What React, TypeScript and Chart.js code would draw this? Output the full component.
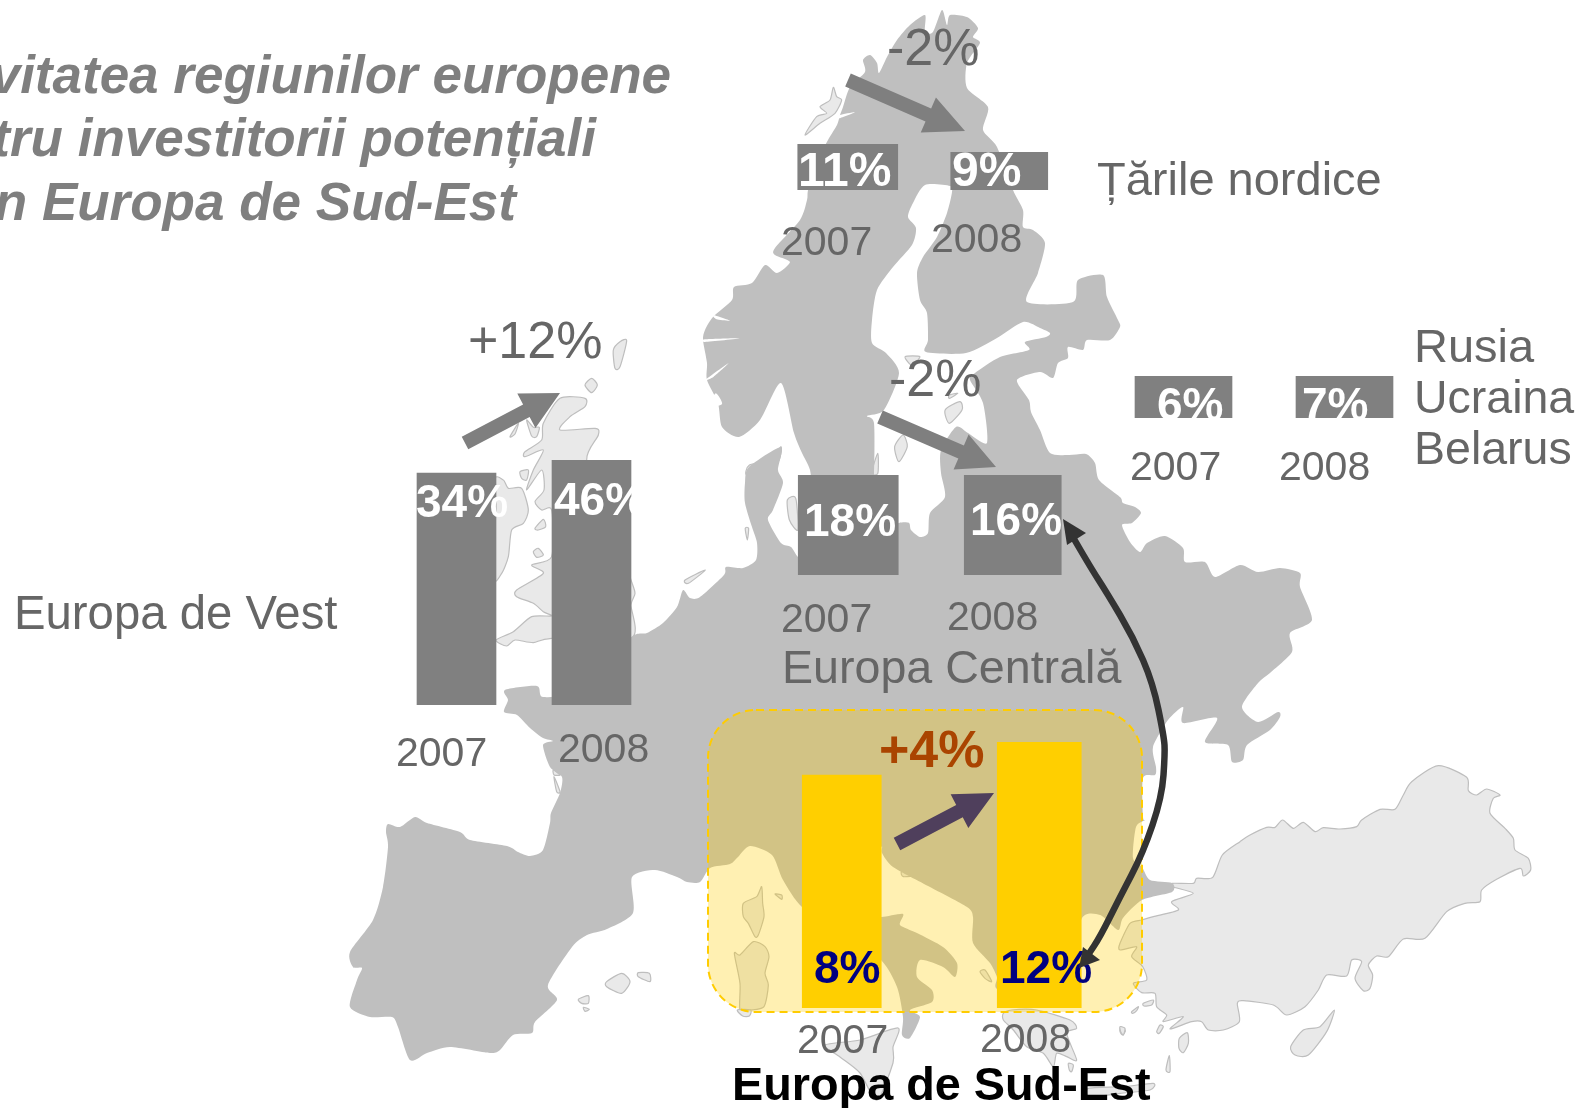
import React, { useEffect, useRef } from "react";
import { Chart, registerables } from "chart.js";

Chart.register(...registerables);

// ---------- data ----------
const years = ["2007", "2008"];
const westValues = [34, 46];
const centralValues = [18, 16];
const nordicValues = [11, 9];
const eastValues = [6, 7];
const southEastValues = [8, 12];

const titleLines = ["vitatea regiunilor europene", "tru investitorii potențiali", "n Europa de Sud-Est"];

// ---------- regions (one small chart each) ----------
type Region = {
  values: number[]; yMin: number; yMax: number; left: number; top: number; width: number; bottom: number; pad: number;
  widths: number[]; color: string; labelColor: string; valuePos: number[][]; yearPos: number[][]; valueFont?: string;
};
const regions: Region[] = [
  { values: westValues, yMin: -180, yMax: 46, left: 389, top: 460, width: 270, bottom: 705, pad: 80, widths: [79, 79], color: "#808080", labelColor: "#ffffff",
    valuePos: [[416, 517], [554, 515]], yearPos: [[396, 766], [558, 762]] },
  { values: centralValues, yMin: 0, yMax: 16, left: 766, top: 475, width: 329, bottom: 575, pad: 75, widths: [100, 97], color: "#808080", labelColor: "#ffffff",
    valuePos: [[804, 536], [970, 535]], yearPos: [[781, 632], [947, 630]] },
  { values: nordicValues, yMin: 0, yMax: 11, left: 772, top: 144, width: 303, bottom: 190, pad: 80, widths: [100, 97], color: "#808080", labelColor: "#ffffff",
    valuePos: [[798, 186], [952, 186]], yearPos: [[781, 255], [931, 252]], valueFont: "bold 48px" },
  { values: eastValues, yMin: 0, yMax: 6, left: 1103, top: 376, width: 322, bottom: 418, pad: 77, widths: [97, 97], color: "#808080", labelColor: "#ffffff",
    valuePos: [[1157, 420], [1302, 420]], yearPos: [[1130, 480], [1279, 480]] },
  { values: southEastValues, yMin: -20.2, yMax: 12, left: 743, top: 742, width: 395, bottom: 1008, pad: 57, widths: [79, 84], color: "#FFCF00", labelColor: "#000080",
    valuePos: [[814, 983], [1000, 983]], yearPos: [[797, 1053], [980, 1052]] },
];

// ---------- background map outlines ----------
type P = number[][];
const mainland: P = [
  [703,340],[705,330],[713,317],[732,300],[734,287],[752,283],[765,265],[777,273],[790,262],[775,255],[775,248],[800,220],[807,200],[808,190],[815,165],[828,140],[837,125],[840,115],[843,107],[850,87],[865,72],[863,60],[870,55],[877,63],[879,73],[887,57],[897,40],[910,25],[925,15],[925,32],[933,32],[942,10],[947,25],[950,15],[967,17],[978,28],[973,37],[980,43],[967,63],[967,88],[988,107],[983,130],[997,147],[1013,190],[1023,210],[1023,227],[1033,230],[1045,243],[1038,273],[1027,302],[1073,302],[1078,280],[1103,275],[1107,297],[1118,320],[1120,327],[1110,340],[1087,340],[1083,350],[1068,347],[1068,358],[1058,363],[1053,378],[1040,372],[1017,380],[1029,400],[1031,412],[1040,430],[1050,453],[1069,455],[1086,454],[1095,463],[1099,480],[1120,497],[1123,503],[1135,507],[1141,513],[1132,523],[1122,525],[1130,542],[1140,552],[1147,543],[1165,536],[1183,548],[1185,562],[1205,562],[1215,577],[1240,565],[1258,572],[1280,568],[1300,573],[1300,587],[1312,620],[1290,633],[1292,652],[1270,673],[1258,683],[1242,707],[1258,722],[1278,712],[1280,717],[1270,730],[1247,745],[1243,760],[1232,762],[1228,745],[1205,742],[1217,718],[1183,723],[1183,707],[1168,720],[1153,747],[1156,767],[1155,775],[1143,778],[1143,817],[1145,820],[1136,827],[1133,858],[1142,867],[1150,880],[1172,883],[1172,892],[1142,900],[1123,918],[1118,930],[1100,915],[1081,920],[1070,990],[1000,990],[997,977],[990,963],[973,943],[973,917],[967,907],[930,887],[893,867],[882,853],[881,847],[860,870],[875,910],[881,917],[903,914],[900,925],[917,933],[943,947],[957,963],[955,977],[943,967],[920,960],[917,977],[932,990],[932,1002],[910,1010],[920,1017],[910,1038],[902,1035],[903,1017],[897,987],[881,960],[840,930],[802,907],[783,880],[772,855],[750,846],[738,857],[730,864],[710,868],[700,882],[687,882],[677,877],[655,870],[632,877],[633,913],[607,929],[587,935],[572,947],[548,985],[557,1000],[535,1022],[532,1033],[513,1035],[500,1050],[490,1053],[450,1047],[427,1053],[410,1060],[398,1027],[392,1017],[370,1017],[350,1007],[357,980],[362,968],[353,967],[350,952],[373,920],[383,887],[388,847],[386,832],[388,824],[400,827],[415,817],[427,823],[460,832],[470,840],[507,846],[518,852],[530,856],[543,850],[550,823],[551,813],[560,793],[562,777],[550,767],[543,745],[553,741],[543,738],[530,728],[517,715],[504,712],[508,700],[505,690],[537,686],[543,697],[580,690],[630,638],[647,633],[663,623],[677,607],[683,590],[690,598],[700,597],[724,575],[726,567],[743,568],[756,560],[757,543],[752,527],[745,503],[745,483],[749,467],[781,447],[778,470],[783,483],[773,510],[768,520],[781,543],[791,547],[798,557],[810,565],[880,560],[885,530],[899,523],[909,523],[911,530],[920,537],[928,533],[930,513],[945,497],[941,473],[941,450],[956,427],[968,433],[987,443],[983,403],[970,380],[975,373],[1000,357],[1029,350],[1025,342],[1046,337],[1050,333],[1040,328],[1023,322],[997,338],[966,353],[926,352],[928,340],[927,313],[920,300],[917,273],[923,257],[937,237],[947,213],[952,192],[950,186],[925,185],[913,203],[908,217],[916,228],[912,245],[893,267],[877,290],[872,320],[872,343],[886,353],[899,373],[884,410],[867,416],[874,423],[874,475],[870,520],[840,530],[815,500],[810,470],[802,453],[794,433],[781,383],[760,420],[739,437],[722,427],[718,403],[707,380],[707,363],
];
const z6 = (a: P): P => a.map(([x, y]) => [400 + x / 3, 310 + y / 3]);
const z3 = (a: P): P => a.map(([x, y]) => [330 + x / 3, 660 + y / 3]);
const z4 = (a: P): P => a.map(([x, y]) => [690 + x / 3, 690 + y / 3]);
const z5 = (a: P): P => a.map(([x, y]) => [1100 + x / 3, 720 + y / 3]);
const z8 = (a: P): P => a.map(([x, y]) => [840 + x / 3, 990 + y / 3]);
const z1 = (a: P): P => a.map(([x, y]) => [680 + x / 3, y / 3]);
const z2 = (a: P): P => a.map(([x, y]) => [680 + x / 2.376, 330 + y / 3]);
const fjords: P[] = [
  z1([[100,945],[150,962],[110,958]]),
  z1([[75,1018],[180,1015],[75,1026]]),
  z1([[480,345],[525,337],[478,355]]),
  z2([[60,150],[115,100],[80,140]]),
  z2([[70,230],[100,222],[85,190]]),
];
const lightShapes: P[] = [
  z5([[217,490],[280,490],[290,475],[338,472],[367,405],[420,365],[450,345],[500,322],[525,322],[548,300],[580,325],[610,307],[645,335],[670,323],[720,327],[770,320],[785,300],[840,268],[885,268],[910,225],[935,185],[1015,137],[1100,172],[1105,212],[1130,225],[1160,207],[1200,225],[1180,235],[1170,280],[1215,325],[1240,355],[1245,390],[1285,415],[1292,450],[1270,468],[1260,445],[1190,478],[1145,510],[1140,545],[1095,550],[1040,575],[975,655],[910,657],[865,710],[830,708],[805,735],[818,765],[810,805],[790,812],[765,775],[785,725],[755,720],[740,768],[680,765],[655,810],[615,860],[560,885],[520,855],[430,842],[412,850],[418,905],[370,930],[325,930],[305,905],[275,905],[210,927],[250,890],[190,905],[200,885],[170,860],[165,820],[125,818],[100,790],[140,780],[128,740],[95,710],[110,680],[60,690],[60,670],[90,610],[125,600],[160,590],[235,570],[215,545],[280,520],[217,500]]),
  z5([[703,870],[680,935],[625,1005],[585,1005],[572,980],[610,930],[660,920]]),
  z5([[262,938],[265,970],[250,998],[237,985],[238,955]]),
  z5([[208,1007],[210,1055],[198,1050]]),
  z5([[62,920],[76,932],[68,945],[60,935]]),
  z5([[180,915],[190,920],[178,940],[170,935]]),
  z5([[95,875],[115,860],[110,872],[98,880]]),
  z5([[130,850],[160,840],[155,855],[132,858]]),
  z8([[490,70],[515,60],[590,60],[690,90],[710,115],[680,130],[710,210],[680,200],[650,190],[640,230],[610,190],[560,170],[520,120],[490,90]]),
  z8([[745,295],[850,290],[940,280],[930,300],[840,310],[750,320]]),
  z8([[685,220],[700,225],[695,245],[688,240]]),
  z8([[840,110],[855,115],[850,135],[842,125]]),
  [[825,1045],[860,1040],[898,1028],[893,1047],[893,1063],[877,1100],[860,1073],[840,1057]],
  z4([[215,590],[218,640],[222,680],[205,735],[195,740],[175,700],[160,680],[160,640],[200,620]]),
  z4([[133,790],[150,795],[190,755],[225,770],[237,800],[225,850],[235,885],[222,950],[180,960],[150,960],[150,880]]),
  z4([[255,612],[275,615],[275,628]]),
  z4([[635,545],[670,540],[680,555],[640,560]]),
  z4([[870,845],[885,840],[905,875],[885,865]]),
  z3([[830,965],[875,940],[900,965],[875,1000],[830,980]]),
  z3([[925,938],[958,940],[960,965],[925,950]]),
  z3([[745,1018],[775,1007],[775,1030],[755,1030]]),
  z3([[760,1042],[778,1048],[765,1054]]),
  z3([[1222,1050],[1262,1050],[1258,1068],[1238,1068]]),
  z3([[670,330],[690,345],[672,345]]),
  z3([[672,350],[690,395],[680,395]]),
  // Great Britain and Ireland
  z6([[480,265],[555,265],[555,290],[510,320],[480,360],[585,355],[595,375],[560,450],[620,600],[693,810],[705,850],[693,885],[693,985],[455,985],[400,998],[345,990],[320,1008],[288,990],[340,965],[395,920],[455,918],[430,905],[400,880],[350,860],[350,840],[430,790],[395,765],[455,740],[455,600],[425,600],[405,575],[432,540],[425,480],[380,540],[400,480],[430,420],[375,440],[375,425],[425,390],[430,340]]),
  z6([[310,510],[325,535],[365,535],[385,600],[370,640],[335,660],[325,740],[305,790],[280,800],[280,520]]),
  z6([[640,120],[660,95],[680,92],[660,170],[645,175]]),
  z6([[555,225],[575,205],[592,225],[575,248]]),
  z6([[330,380],[355,340],[345,372]]),
  z6([[380,330],[400,352],[418,352],[410,380],[395,378]]),
  z6([[360,485],[385,480],[380,510],[365,505]]),
  z6([[405,655],[430,628],[437,650],[415,660]]),
  z6([[400,725],[415,715],[430,735],[410,742]]),
  // Baltic and Norwegian islands
  z1([[460,262],[470,290],[485,300],[465,340],[420,370],[375,405],[410,350],[440,340],[420,320],[450,300]]),
  z2([[530,315],[510,350],[520,395],[540,350]]),
  z2([[470,370],[455,430],[470,430]]),
  z2([[255,510],[275,505],[280,600],[260,570]]),
  z2([[240,350],[215,390],[165,405],[160,435],[230,400]]),
  z2([[535,80],[570,80],[550,105]]),
  z2([[630,240],[665,215],[670,240],[640,280]]),
  z2([[640,195],[660,190],[640,205]]),
  z2([[155,595],[163,595],[160,630]]),
  z2([[12,750],[60,720],[20,760]]),
];
const curvePoints: P = [[1070,532],[1089,565],[1107,593],[1133,637],[1153,683],[1164,737],[1165,753],[1162,797],[1143,853],[1120,897],[1100,937],[1088,955]];
const blockArrows = [
  { tail: [465,443], tip: [560,393], sw: 14, hw: 39, hl: 38, color: "#7F7F7F" },
  { tail: [848,80], tip: [965,131], sw: 14, hw: 38, hl: 40, color: "#7F7F7F" },
  { tail: [880,417], tip: [996,467], sw: 14, hw: 38, hl: 38, color: "#7F7F7F" },
  { tail: [897,844], tip: [994,793], sw: 14, hw: 38, hl: 39, color: "#4F3F5C" },
];

// closed Catmull-Rom curve that passes through every outline point
function smooth(ctx: CanvasRenderingContext2D, pts: P) {
  const n = pts.length;
  ctx.beginPath();
  ctx.moveTo(pts[0][0], pts[0][1]);
  for (let i = 0; i < n; i++) {
    const p0 = pts[(i - 1 + n) % n], p1 = pts[i], p2 = pts[(i + 1) % n], p3 = pts[(i + 2) % n];
    ctx.bezierCurveTo(
      p1[0] + (p2[0] - p0[0]) / 8, p1[1] + (p2[1] - p0[1]) / 8,
      p2[0] - (p3[0] - p1[0]) / 8, p2[1] - (p3[1] - p1[1]) / 8,
      p2[0], p2[1],
    );
  }
  ctx.closePath();
}

const FONT = '"Liberation Sans", Arial, sans-serif';
function text(ctx: CanvasRenderingContext2D, s: string, x: number, y: number, font: string, color: string, align: CanvasTextAlign = "left") {
  ctx.font = `${font} ${FONT}`;
  ctx.fillStyle = color;
  ctx.textAlign = align;
  ctx.textBaseline = "alphabetic";
  ctx.fillText(s, x, y);
}

const mapPlugin = {
  id: "mapLayer",
  beforeDraw(chart: any) {
    const ctx: CanvasRenderingContext2D = chart.ctx;
    ctx.save();
    ctx.lineJoin = "round";
    lightShapes.forEach((s) => {
      smooth(ctx, s);
      ctx.fillStyle = "#E9E9E9";
      ctx.fill();
      ctx.strokeStyle = "#BEBEBE";
      ctx.lineWidth = 1.2;
      ctx.stroke();
    });
    smooth(ctx, mainland);
    ctx.fillStyle = "#BFBFBF";
    ctx.fill();
    fjords.forEach((s) => {
      smooth(ctx, s);
      ctx.fillStyle = "#FFFFFF";
      ctx.fill();
    });
    // highlighted South-East region
    ctx.beginPath();
    ctx.roundRect(708, 710, 434, 302, 48);
    ctx.fillStyle = "rgba(255,204,0,0.3)";
    ctx.fill();
    ctx.setLineDash([8, 5]);
    ctx.lineWidth = 2;
    ctx.strokeStyle = "#FFCC00";
    ctx.stroke();
    ctx.restore();
  },
};

const overlayPlugin = {
  id: "overlayLayer",
  afterDraw(chart: any) {
    const ctx: CanvasRenderingContext2D = chart.ctx;
    ctx.save();
    blockArrows.forEach(({ tail, tip, sw, hw, hl, color }) => {
      const dx = tip[0] - tail[0], dy = tip[1] - tail[1];
      const len = Math.hypot(dx, dy);
      const ux = dx / len, uy = dy / len, nx = -uy, ny = ux;
      const bx = tip[0] - ux * hl, by = tip[1] - uy * hl;
      ctx.beginPath();
      ctx.moveTo(tail[0] + nx * sw / 2, tail[1] + ny * sw / 2);
      ctx.lineTo(bx + nx * sw / 2, by + ny * sw / 2);
      ctx.lineTo(bx + nx * hw / 2, by + ny * hw / 2);
      ctx.lineTo(tip[0], tip[1]);
      ctx.lineTo(bx - nx * hw / 2, by - ny * hw / 2);
      ctx.lineTo(bx - nx * sw / 2, by - ny * sw / 2);
      ctx.lineTo(tail[0] - nx * sw / 2, tail[1] - ny * sw / 2);
      ctx.closePath();
      ctx.fillStyle = color;
      ctx.fill();
    });
    // curved double-headed arrow
    ctx.beginPath();
    ctx.moveTo(curvePoints[0][0], curvePoints[0][1]);
    for (let i = 1; i < curvePoints.length - 1; i++) {
      const a = curvePoints[i], b = curvePoints[i + 1];
      ctx.quadraticCurveTo(a[0], a[1], (a[0] + b[0]) / 2, (a[1] + b[1]) / 2);
    }
    const last = curvePoints[curvePoints.length - 1];
    ctx.lineTo(last[0], last[1]);
    ctx.strokeStyle = "#333333";
    ctx.lineWidth = 6.5;
    ctx.stroke();
    ctx.fillStyle = "#333333";
    [[[1063,519],[1086,533],[1067,545]], [[1079,968],[1100,960],[1083,947]]].forEach((t) => {
      ctx.beginPath();
      ctx.moveTo(t[0][0], t[0][1]);
      ctx.lineTo(t[1][0], t[1][1]);
      ctx.lineTo(t[2][0], t[2][1]);
      ctx.closePath();
      ctx.fill();
    });
    // texts
    const title = "italic bold 53px";
    text(ctx, titleLines[0], 671, 93, title, "#7F7F7F", "right");
    text(ctx, titleLines[1], 596, 156, title, "#7F7F7F", "right");
    text(ctx, titleLines[2], 516, 220, title, "#7F7F7F", "right");
    const grey = "#666666";
    text(ctx, "-2%", 887, 65, "52px", grey);
    text(ctx, "+12%", 468, 358, "52px", grey);
    text(ctx, "-2%", 889, 396, "52px", grey);
    text(ctx, "+4%", 879, 767, "bold 52px", "#AA4400");
    text(ctx, "Țările nordice", 1097, 195, "47px", grey);
    text(ctx, "Rusia", 1414, 362, "47px", grey);
    text(ctx, "Ucraina", 1414, 413, "46.5px", grey);
    text(ctx, "Belarus", 1414, 464, "46.5px", grey);
    text(ctx, "Europa de Vest", 14, 629, "47.3px", grey);
    text(ctx, "Europa Centrală", 782, 683, "46.6px", grey);
    text(ctx, "Europa de Sud-Est", 732, 1100, "bold 46.8px", "#000000");
    ctx.restore();
  },
};

const regionLabels = {
  id: "regionLabels",
  afterDatasetsDraw(chart: any, _a: any, opts: any) {
    const r: Region = opts.region;
    const ctx: CanvasRenderingContext2D = chart.ctx;
    ctx.save();
    r.values.forEach((v, i) => {
      text(ctx, `${v}%`, r.valuePos[i][0] - r.left, r.valuePos[i][1] - r.top, r.valueFont ?? "bold 46px", r.labelColor);
      text(ctx, years[i], r.yearPos[i][0] - r.left, r.yearPos[i][1] - r.top, "41px", "#666666");
    });
    ctx.restore();
  },
};

const layerOptions: any = {
  responsive: false,
  animation: false,
  devicePixelRatio: 1,
  plugins: { legend: { display: false }, tooltip: { enabled: false } },
  scales: { x: { display: false }, y: { display: false } },
};

export default function App() {
  const under = useRef<HTMLCanvasElement>(null);
  const over = useRef<HTMLCanvasElement>(null);
  const bars = useRef<(HTMLCanvasElement | null)[]>([]);

  useEffect(() => {
    document.body.style.margin = "0";
    const charts: Chart[] = [];
    charts.push(new Chart(under.current as any, { type: "bar", data: { labels: [], datasets: [] }, options: layerOptions, plugins: [mapPlugin] } as any));
    regions.forEach((r, idx) => {
      charts.push(new Chart(bars.current[idx] as any, {
        type: "bar",
        data: {
          labels: years,
          datasets: r.values.map((v, i) => ({
            label: years[i],
            data: years.map((_, j) => (j === i ? v : null)),
            backgroundColor: r.color,
            barThickness: r.widths[i],
            grouped: false,
            base: r.yMin,
            borderWidth: 0,
          })),
        },
        options: {
          responsive: false,
          animation: false,
          devicePixelRatio: 1,
          layout: { padding: { left: 0, right: 0, top: 0, bottom: r.pad } },
          plugins: { legend: { display: false }, tooltip: { enabled: false }, regionLabels: { region: r } },
          scales: {
            x: { display: false, type: "category", offset: true },
            y: { display: false, min: r.yMin, max: r.yMax },
          },
        },
        plugins: [regionLabels],
      } as any));
    });
    charts.push(new Chart(over.current as any, { type: "bar", data: { labels: [], datasets: [] }, options: layerOptions, plugins: [overlayPlugin] } as any));
    return () => charts.forEach((c) => c.destroy());
  }, []);

  const abs: React.CSSProperties = { position: "absolute" };
  return (
    <div style={{ position: "relative", width: 1579, height: 1108, overflow: "hidden", background: "#fff" }}>
      <canvas ref={under} width={1579} height={1108} style={{ ...abs, left: 0, top: 0 }} />
      {regions.map((r, i) => (
        <canvas
          key={i}
          ref={(el) => { bars.current[i] = el; }}
          width={r.width}
          height={r.bottom - r.top + r.pad}
          style={{ ...abs, left: r.left, top: r.top }}
        />
      ))}
      <canvas ref={over} width={1579} height={1108} style={{ ...abs, left: 0, top: 0, pointerEvents: "none" }} />
    </div>
  );
}
